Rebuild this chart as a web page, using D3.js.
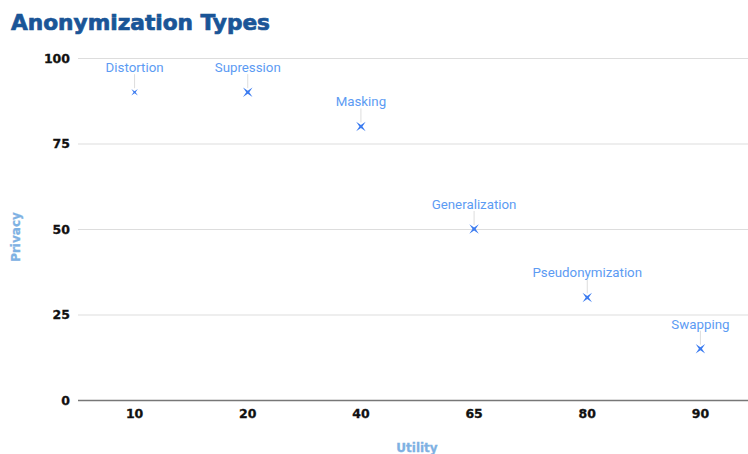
<!DOCTYPE html>
<html>
<head>
<meta charset="utf-8">
<script src="https://cdn.jsdelivr.net/npm/d3@7"></script>
<style>
    body { margin: 0; background: #fff; }
    svg { display: block; }
</style>
</head>
<body>
<div id="chart"></div>
<script>
// chart data
var categories = ["10", "20", "40", "65", "80", "90"];
var privacy = [90, 90, 80, 50, 30, 15];
var names = ["Distortion", "Supression", "Masking", "Generalization", "Pseudonymization", "Swapping"];
var yTicks = [0, 25, 50, 75, 100];

var W = 748, H = 454;
var margin = { top: 58, right: -9, bottom: 54, left: 78 };

var svg = d3.select("#chart")
    .append("svg")
    .attr("width", W)
    .attr("height", H);

var x = d3.scaleBand()
    .domain(categories)
    .range([margin.left, W - margin.right]);

var y = d3.scaleLinear()
    .domain([0, 100])
    .range([H - margin.bottom, margin.top]);

// title
svg.append("text")
    .attr("x", 11)
    .attr("y", 30)
    .attr("font-family", "DejaVu Sans")
    .attr("font-weight", "bold")
    .attr("font-size", 21)
    .attr("textLength", 259)
    .attr("lengthAdjust", "spacingAndGlyphs")
    .attr("fill", "#1a5597")
    .attr("stroke", "#1a5597")
    .attr("stroke-width", 0.7)
    .text("Anonymization Types");

// gridlines + y labels
var yAxis = svg.append("g")
    .attr("transform", "translate(" + margin.left + ",0)")
    .call(d3.axisLeft(y).tickValues(yTicks).tickSize(-(W - margin.left)).tickPadding(8));
yAxis.select(".domain").remove();
yAxis.selectAll(".tick line")
    .attr("stroke", d => d == 0 ? "#777" : "#ddd")
    .attr("stroke-width", d => d == 0 ? 1.6 : 1.2);
yAxis.selectAll(".tick text")
    .attr("font-family", "DejaVu Sans")
    .attr("font-weight", "bold")
    .attr("font-size", 12.5)
    .attr("fill", "#111")
    .attr("stroke", "#111")
    .attr("stroke-width", 0.3);

// x labels
var xAxis = svg.append("g")
    .attr("transform", "translate(0," + (H - margin.bottom) + ")")
    .call(d3.axisBottom(x).tickSize(0).tickPadding(9));
xAxis.select(".domain").remove();
xAxis.selectAll(".tick text")
    .attr("font-family", "DejaVu Sans")
    .attr("font-weight", "bold")
    .attr("font-size", 12.5)
    .attr("fill", "#111")
    .attr("stroke", "#111")
    .attr("stroke-width", 0.3);

// axis titles
svg.append("text")
    .attr("x", 417)
    .attr("y", 452)
    .attr("text-anchor", "middle")
    .attr("font-family", "DejaVu Sans")
    .attr("font-weight", "bold")
    .attr("font-size", 12)
    .attr("fill", "#7eb1e3")
    .attr("stroke", "#7eb1e3")
    .attr("stroke-width", 0.3)
    .text("Utility");

svg.append("text")
    .attr("transform", "translate(20,237) rotate(-90)")
    .attr("text-anchor", "middle")
    .attr("font-family", "DejaVu Sans")
    .attr("font-weight", "bold")
    .attr("font-size", 12)
    .attr("fill", "#7eb1e3")
    .attr("stroke", "#7eb1e3")
    .attr("stroke-width", 0.3)
    .text("Privacy");

// four point star marker
var star = {
    draw: function (ctx, size) {
        var r = Math.sqrt(size) / 2, k = r * 0.32;
        ctx.moveTo(-r, -r);
        ctx.lineTo(0, -k);
        ctx.lineTo(r, -r);
        ctx.lineTo(k, 0);
        ctx.lineTo(r, r);
        ctx.lineTo(0, k);
        ctx.lineTo(-r, r);
        ctx.lineTo(-k, 0);
        ctx.closePath();
    }
};

var items = categories.map(function (c, i) {
    return { cat: c, value: privacy[i], name: names[i] };
});

var cx = d => x(d.cat) + x.bandwidth() / 2;

// leader lines
svg.selectAll("line.leader")
    .data(items)
    .enter()
    .append("line")
    .attr("class", "leader")
    .attr("x1", cx)
    .attr("x2", cx)
    .attr("y1", d => y(d.value) - 18)
    .attr("y2", d => y(d.value) - 4)
    .attr("stroke", "#ddd")
    .attr("stroke-width", 1);

// points
svg.selectAll("path.pt")
    .data(items)
    .enter()
    .append("path")
    .attr("class", "pt")
    .attr("transform", d => "translate(" + cx(d) + "," + y(d.value) + ")")
    .attr("d", (d, i) => d3.symbol().type(star).size(i == 0 ? 42 : 90)())
    .attr("fill", "#3b7bf0");

// labels
svg.selectAll("text.lbl")
    .data(items)
    .enter()
    .append("text")
    .attr("class", "lbl")
    .attr("x", cx)
    .attr("y", d => y(d.value) - 20)
    .attr("text-anchor", "middle")
    .attr("font-family", "Roboto")
    .attr("font-size", 13.3)
    .attr("fill", "#5c9bf3")
    .text(d => d.name);
</script>
</body>
</html>
